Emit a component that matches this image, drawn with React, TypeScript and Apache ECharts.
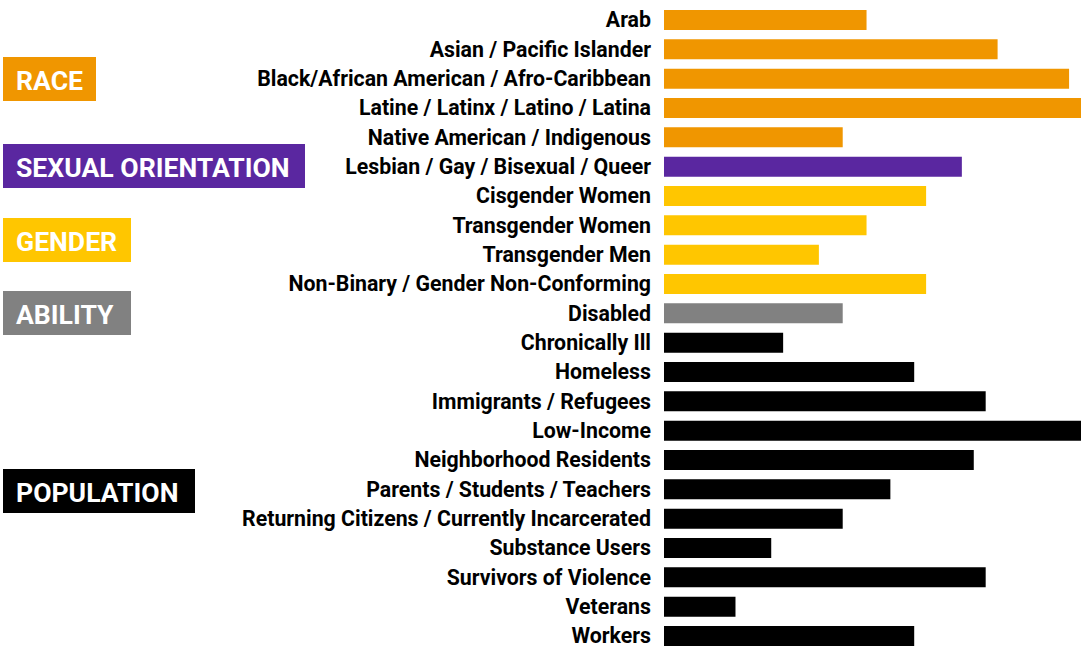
import React, { useEffect, useRef } from "react";
import * as echarts from "echarts";

const categories = [
  "Arab",
  "Asian / Pacific Islander",
  "Black/African American / Afro-Caribbean",
  "Latine / Latinx / Latino / Latina",
  "Native American / Indigenous",
  "Lesbian / Gay / Bisexual / Queer",
  "Cisgender Women",
  "Transgender Women",
  "Transgender Men",
  "Non-Binary / Gender Non-Conforming",
  "Disabled",
  "Chronically Ill",
  "Homeless",
  "Immigrants / Refugees",
  "Low-Income",
  "Neighborhood Residents",
  "Parents / Students / Teachers",
  "Returning Citizens / Currently Incarcerated",
  "Substance Users",
  "Survivors of Violence",
  "Veterans",
  "Workers",
];

const values = [17, 28, 34, 35, 15, 25, 22, 17, 13, 22, 15, 10, 21, 27, 35, 26, 19, 15, 9, 27, 6, 21];

const groupOf = [
  "RACE", "RACE", "RACE", "RACE", "RACE",
  "SEXUAL ORIENTATION",
  "GENDER", "GENDER", "GENDER", "GENDER",
  "ABILITY",
  "POPULATION", "POPULATION", "POPULATION", "POPULATION", "POPULATION",
  "POPULATION", "POPULATION", "POPULATION", "POPULATION", "POPULATION", "POPULATION",
];

const groupColors: Record<string, string> = {
  RACE: "#F09600",
  "SEXUAL ORIENTATION": "#5A27A0",
  GENDER: "#FFC600",
  ABILITY: "#818181",
  POPULATION: "#000000",
};

const groupBoxes = [
  { name: "RACE", y: 57, w: 93 },
  { name: "SEXUAL ORIENTATION", y: 144, w: 302 },
  { name: "GENDER", y: 218, w: 128 },
  { name: "ABILITY", y: 291, w: 128 },
  { name: "POPULATION", y: 469, w: 192 },
];

export default function App() {
  const ref = useRef<HTMLDivElement>(null);
  useEffect(() => {
    document.body.style.margin = "0";
    const chart = echarts.init(ref.current!, null, { renderer: "svg" });
    const graphics: any[] = [];
    groupBoxes.forEach((g) => {
      graphics.push({
        type: "rect",
        left: 3,
        top: g.y,
        shape: { x: 0, y: 0, width: g.w, height: 44 },
        style: { fill: groupColors[g.name] },
      });
      graphics.push({
        type: "text",
        x: 16,
        y: g.y + 23,
        style: {
          text: g.name,
          fill: "#ffffff",
          font: "bold 26.6px Roboto",
          textVerticalAlign: "middle",
          verticalAlign: "middle",
        },
      });
    });
    chart.setOption({
      animation: false,
      grid: { left: 664, right: 0, top: 5.33, height: 645.33, containLabel: false },
      xAxis: { type: "value", min: 0, max: 35, show: false },
      yAxis: {
        type: "category",
        data: categories,
        inverse: true,
        axisLine: { show: false },
        axisTick: { show: false },
        axisLabel: {
          color: "#000",
          fontFamily: "Roboto",
          fontWeight: "bold",
          fontSize: 21.3,
          lineHeight: 18,
          margin: 13,
        },
      },
      series: [
        {
          type: "bar",
          barWidth: 20,
          data: values.map((v, i) => ({ value: v, itemStyle: { color: groupColors[groupOf[i]] } })),
        },
      ],
      graphic: graphics,
    });
    return () => chart.dispose();
  }, []);
  return (
    <div style={{ width: 1081, height: 646, overflow: "hidden", position: "relative" }}>
      <div ref={ref} style={{ width: 1081, height: 652 }} />
    </div>
  );
}
